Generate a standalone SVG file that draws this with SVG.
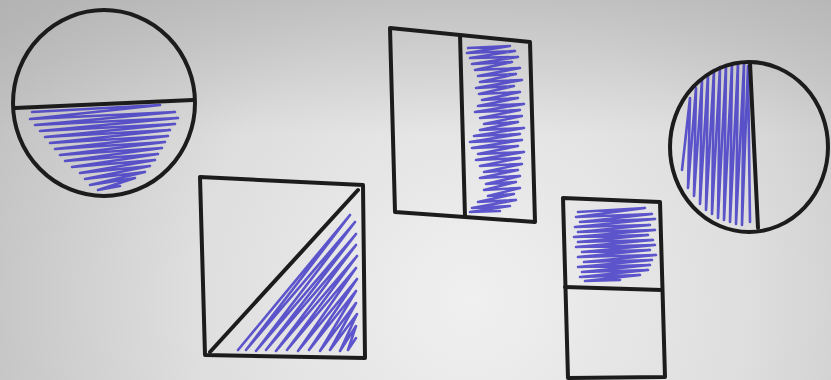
<svg xmlns="http://www.w3.org/2000/svg" width="831" height="380" viewBox="0 0 831 380">
<defs>
<radialGradient id="bg" cx="470" cy="300" r="560" gradientUnits="userSpaceOnUse">
<stop offset="0" stop-color="#f0f0f0"/>
<stop offset="0.5" stop-color="#dedede"/>
<stop offset="1" stop-color="#bcbcbc"/>
</radialGradient>
<linearGradient id="top" x1="0" y1="0" x2="0" y2="1">
<stop offset="0" stop-color="#a8a8a8" stop-opacity="0.5"/>
<stop offset="0.35" stop-color="#a8a8a8" stop-opacity="0"/>
</linearGradient>
<style>
.ol{fill:none;stroke:#1c1c1c;stroke-width:4;stroke-linejoin:round;stroke-linecap:round}
.sh{fill:none;stroke:#3a30c4;stroke-width:2.6;stroke-opacity:0.8;stroke-linejoin:round;stroke-linecap:round}
</style>
</defs>
<rect x="0" y="0" width="831" height="380" fill="url(#bg)"/>
<rect x="0" y="0" width="831" height="380" fill="url(#top)"/>

<g id="circle-horizontal">
<path class="sh" d="M32 112 L160 105 L30 119 L175 112 L35 125 L178 118 L40 131 L175 124 L45 137 L170 130 L50 143 L168 136 L55 149 L165 142 L60 155 L162 148 L65 161 L158 154 L72 167 L155 160 L80 173 L150 166 L85 179 L145 172 L90 185 L135 178 L98 190 L120 186"/>
<ellipse class="ol" cx="104" cy="103" rx="91" ry="93"/>
<line class="ol" x1="15" y1="108" x2="193" y2="100"/>
</g>

<g id="square-diagonal">
<path class="sh" d="M238 350 L350 215 L246 350 L355 222 L256 351 L356 234 L266 350 L356 245 L276 351 L357 256 L287 350 L356 268 L298 351 L357 279 L309 350 L356 291 L320 351 L356 303 L330 350 L357 314 L340 351 L356 326 L348 350 L356 338"/>
<path class="ol" d="M200 177 L363 185 L365 358 L205 355 Z"/>
<line class="ol" x1="210" y1="352" x2="358" y2="190"/>
</g>

<g id="rect-vertical">
<path class="sh" d="M468 48 L510 46 L467 53 L515 51 L470 58 L518 57 L472 64 L512 62 L475 70 L520 68 L478 76 L516 74 L480 82 L522 80 L476 88 L514 86 L479 94 L520 92 L482 100 L518 98 L478 106 L524 104 L475 112 L520 110 L480 118 L522 116 L484 124 L518 122 L480 130 L524 128 L474 136 L520 134 L470 142 L522 140 L472 148 L518 146 L478 154 L524 152 L476 160 L520 158 L480 166 L522 164 L484 172 L518 170 L480 178 L520 176 L486 184 L516 182 L484 190 L520 188 L488 196 L514 194 L478 202 L516 200 L472 208 L510 206 L470 212 L500 211"/>
<path class="ol" d="M390 28 L530 42 L535 222 L395 212 Z"/>
<line class="ol" x1="460" y1="35" x2="465" y2="217"/>
</g>

<g id="rect-horizontal">
<path class="sh" d="M578 212 L645 208 L576 217 L652 214 L580 222 L655 219 L575 227 L650 225 L578 232 L655 230 L574 237 L648 235 L578 242 L653 240 L576 247 L655 245 L582 252 L650 250 L578 257 L656 255 L584 262 L652 260 L578 267 L650 265 L582 272 L648 270 L580 277 L640 275 L585 281 L620 280"/>
<path class="ol" d="M563 198 L660 202 L665 377 L568 378 Z"/>
<line class="ol" x1="565" y1="287" x2="662" y2="290"/>
</g>

<g id="circle-vertical">
<path class="sh" d="M682 170 L690 98 L688 188 L696 88 L694 196 L702 80 L700 204 L708 74 L706 210 L714 70 L712 214 L720 67 L718 218 L726 65 L724 220 L732 64 L730 222 L738 63 L736 224 L744 64 L742 225 L748 66 L750 222"/>
<ellipse class="ol" cx="749" cy="147" rx="79" ry="85"/>
<line class="ol" x1="750" y1="63" x2="758" y2="228"/>
</g>
</svg>
